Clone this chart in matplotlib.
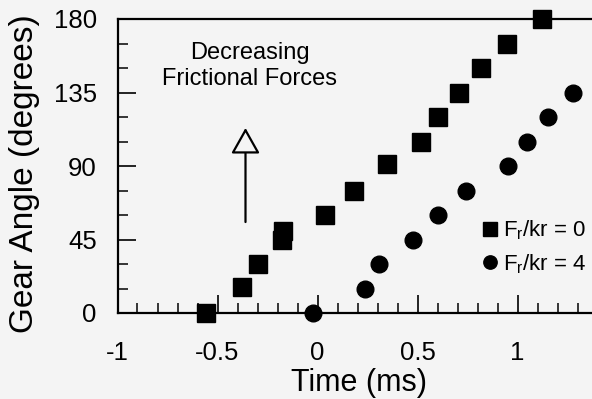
import numpy as np
import matplotlib
matplotlib.use("Agg")
import matplotlib.pyplot as plt
from matplotlib.ticker import MultipleLocator

plt.rcParams['font.family'] = ['Liberation Sans', 'DejaVu Sans']
plt.rcParams['mathtext.fontset'] = 'custom'
plt.rcParams['mathtext.rm'] = 'Liberation Sans'

# Fr/kr = 0 (squares)
time_fr0 = [-0.56, -0.38, -0.30, -0.18, -0.175, 0.035, 0.18, 0.345, 0.515, 0.60, 0.705, 0.815, 0.945, 1.12]
angle_fr0 = [0, 16, 30, 45, 50, 60, 75, 91, 105, 120, 135, 150, 165, 180]

# Fr/kr = 4 (circles)
time_fr4 = [-0.025, 0.235, 0.305, 0.475, 0.60, 0.74, 0.95, 1.045, 1.15, 1.275]
angle_fr4 = [0, 15, 30, 45, 60, 75, 90, 105, 120, 135]

labels = [r'F$_\mathrm{r}$/kr = 0', r'F$_\mathrm{r}$/kr = 4']
bg = '#f4f4f4'

fig = plt.figure(figsize=(5.92, 3.99), dpi=100, facecolor=bg)
ax = fig.add_axes([117.5 / 592, 86 / 399, 1 - 117.5 / 592, 294 / 399], facecolor=bg)

sq, = ax.plot(time_fr0, angle_fr0, 's', color='black', markersize=12.5, clip_on=False,
              label=labels[0], zorder=3)
ci, = ax.plot(time_fr4, angle_fr4, 'o', color='black', markersize=12, clip_on=False,
              label=labels[1], zorder=3)

ax.set_xlim(-1, 1.3725)
ax.set_ylim(0, 180)
ax.xaxis.set_major_locator(MultipleLocator(0.5))
ax.xaxis.set_minor_locator(MultipleLocator(0.1))
ax.yaxis.set_major_locator(MultipleLocator(45))
ax.yaxis.set_minor_locator(MultipleLocator(15))
ax.set_xticks([-1, -0.5, 0, 0.5, 1])
ax.set_xticklabels(['-1', '-0.5', '0', '0.5', '1'])
ax.set_yticks([0, 45, 90, 135, 180])

ax.spines['right'].set_visible(False)
for s in ['left', 'bottom', 'top']:
    ax.spines[s].set_linewidth(1.6)

ax.tick_params(which='major', direction='in', length=13, width=1.2, labelsize=18.5)
ax.tick_params(axis='x', which='major', pad=20)
ax.tick_params(axis='y', which='major', pad=15)
ax.tick_params(which='minor', direction='in', length=7, width=1.1)

fig.text(359 / 592, 1 - 383 / 399, 'Time (ms)', fontsize=22, ha='center', va='center')
fig.text(25 / 592, 1 - 174 / 399, 'Gear Angle (degrees)', fontsize=24, rotation=90,
         ha='center', va='center')

ax.text(-0.34, 151, 'Decreasing\nFrictional Forces', fontsize=17, ha='center', va='center',
        linespacing=1.25)
ax.annotate('', xy=(-0.36, 115), xytext=(-0.36, 54),
            arrowprops=dict(arrowstyle='-|>,head_length=0.8,head_width=0.45',
                            mutation_scale=20, lw=1.6, color='black', fc=bg))

ax.legend(handles=[sq, ci], loc='center left', bbox_to_anchor=(483 / 592, 1 - 247 / 399),
          bbox_transform=fig.transFigure, frameon=False, fontsize=16, markerscale=0.8,
          handlelength=0.6, handletextpad=0.3, labelspacing=0.45, borderpad=0, borderaxespad=0)

fig.savefig('out.png', dpi=100, facecolor=bg)
